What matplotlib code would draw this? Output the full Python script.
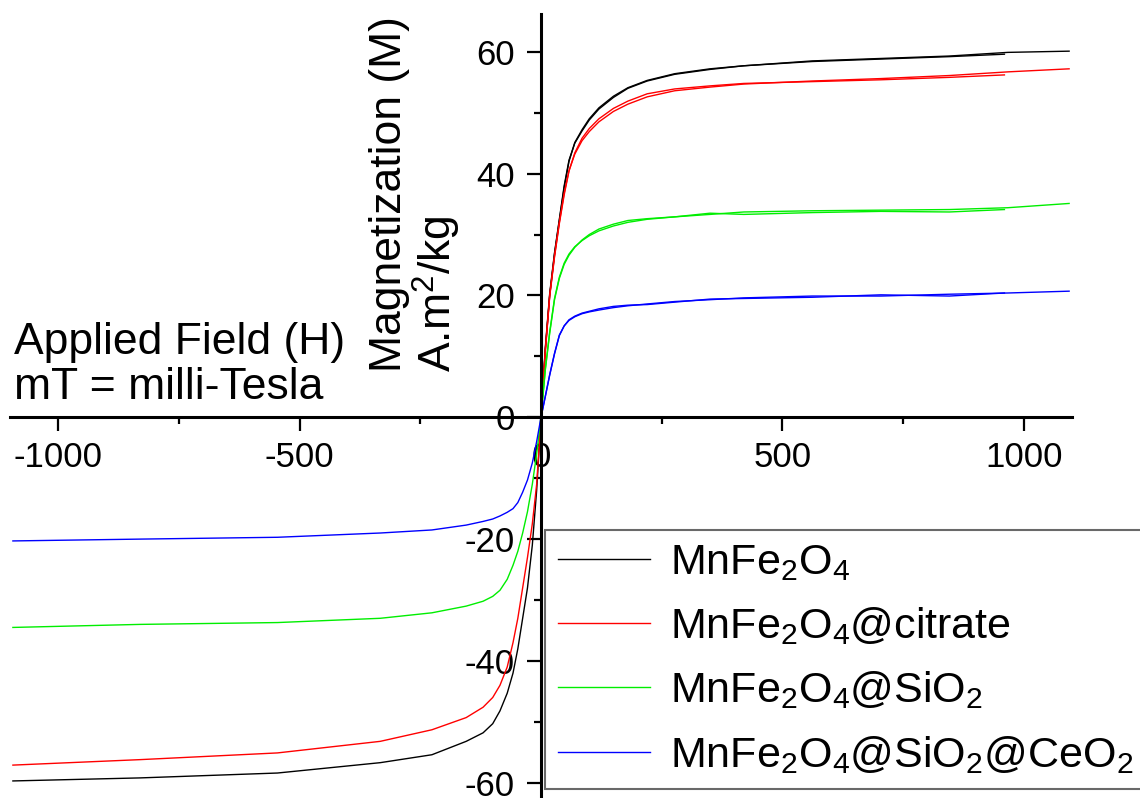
import matplotlib
matplotlib.use("Agg")
import matplotlib.pyplot as plt
from matplotlib.ticker import MultipleLocator

plt.rcParams['font.family'] = ['Liberation Sans', 'DejaVu Sans']
plt.rcParams['mathtext.fontset'] = 'custom'
plt.rcParams['mathtext.rm'] = 'Liberation Sans'
plt.rcParams['mathtext.it'] = 'Liberation Sans:italic'
plt.rcParams['axes.unicode_minus'] = False

# campo aplicado (mT), rama completa
campo = [-1094, -830, -546, -333, -226, -155, -120, -100, -85, -70, -58, -48, -38, -28, -18, -9, 0,
         9, 18, 28, 38, 48, 58, 70, 85, 100, 120, 150, 180, 220, 277, 350, 420, 562, 704, 846, 967, 1094]

m_mnfe = [-59.7, -59.2, -58.4, -56.7, -55.4, -53.2, -51.8, -50.3, -48.2, -45.3, -42.0, -38.0, -33.0, -28.0, -21.0, -12.0, 0,
          11.5, 20.3, 27.0, 32.5, 38.0, 42.2, 45.0, 47.0, 48.8, 50.6, 52.5, 54.0, 55.2, 56.3, 57.1, 57.7, 58.5, 58.9, 59.3, 59.9, 60.1]
m_citrato = [-57.1, -56.2, -55.1, -53.2, -51.3, -49.3, -47.6, -46.0, -44.0, -41.0, -37.0, -33.0, -28.0, -23.0, -17.5, -11.0, 0,
             11.0, 20.0, 26.5, 32.0, 36.8, 40.5, 43.2, 45.4, 46.9, 48.5, 50.2, 51.4, 52.6, 53.6, 54.2, 54.7, 55.2, 55.6, 56.1, 56.7, 57.2]
m_sio2 = [-34.5, -34.0, -33.7, -33.0, -32.1, -31.0, -30.2, -29.4, -28.4, -26.6, -24.3, -22.0, -19.0, -15.5, -11.0, -6.0, 0,
          8.0, 14.0, 19.5, 23.0, 25.3, 26.8, 28.0, 29.0, 29.8, 30.6, 31.4, 32.0, 32.5, 32.9, 33.3, 33.7, 33.9, 34.0, 34.1, 34.4, 35.1]
m_ceo2 = [-20.3, -20.0, -19.7, -19.0, -18.5, -17.7, -17.1, -16.7, -16.2, -15.6, -15.0, -14.0, -12.3, -10.3, -7.5, -4.0, 0,
          3.5, 7.0, 10.5, 13.5, 15.0, 15.9, 16.5, 17.0, 17.3, 17.6, 18.0, 18.3, 18.6, 19.0, 19.3, 19.6, 19.9, 19.9, 20.2, 20.4, 20.7]

# rama de retorno (solo lado positivo, termina cerca de 960 mT)
campo_ret = [0, 9, 18, 28, 38, 48, 58, 70, 85, 100, 120, 150, 180, 220, 277, 350, 420, 562, 704, 846, 960]
r_mnfe = [0, 11.2, 20.0, 26.8, 32.3, 37.7, 42.0, 45.1, 47.2, 49.0, 50.8, 52.7, 54.1, 55.3, 56.4, 57.2, 57.7, 58.4, 58.8, 59.2, 59.6]
r_citrato = [0, 10.8, 19.8, 26.3, 31.8, 36.5, 40.4, 43.4, 45.8, 47.4, 49.0, 50.7, 51.9, 53.1, 53.9, 54.4, 54.8, 55.1, 55.4, 55.8, 56.2]
r_sio2 = [0, 7.8, 13.8, 19.3, 22.8, 25.1, 26.6, 27.9, 29.1, 30.0, 30.9, 31.7, 32.3, 32.6, 32.9, 33.5, 33.3, 33.6, 33.8, 33.7, 34.1]
r_ceo2 = [0, 3.4, 6.9, 10.4, 13.4, 15.0, 16.0, 16.6, 17.1, 17.4, 17.8, 18.2, 18.4, 18.5, 18.9, 19.4, 19.5, 19.7, 20.1, 19.9, 20.4]

etiquetas = ["MnFe$_2$O$_4$", "MnFe$_2$O$_4$@citrate",
             "MnFe$_2$O$_4$@SiO$_2$", "MnFe$_2$O$_4$@SiO$_2$@CeO$_2$"]
colores = ["#000000", "#ff0000", "#00ee00", "#0000ff"]

fig = plt.figure(figsize=(11.4, 7.98), dpi=100)
ax = fig.add_axes([10/1140, 0.0, 1062/1140, 784/798])

series = [(m_mnfe, r_mnfe), (m_citrato, r_citrato), (m_sio2, r_sio2), (m_ceo2, r_ceo2)]
for (m, r), etiqueta, color in zip(series, etiquetas, colores):
    ax.plot(campo, m, color=color, lw=1.0, label=etiqueta)
    ax.plot(campo_ret, r, color=color, lw=1.0)

ax.set_xlim(-1100, 1100)
ax.set_ylim(-62.5, 66.2)

ax.spines['left'].set_position(('data', 0))
ax.spines['bottom'].set_position(('data', 0))
ax.spines['top'].set_visible(False)
ax.spines['right'].set_visible(False)
ax.spines['left'].set_linewidth(2.2)
ax.spines['bottom'].set_linewidth(2.2)

ax.xaxis.set_major_locator(MultipleLocator(500))
ax.xaxis.set_minor_locator(MultipleLocator(250))
ax.yaxis.set_major_locator(MultipleLocator(20))
ax.yaxis.set_minor_locator(MultipleLocator(10))
ax.tick_params(which='major', direction='out', length=10, width=1.6, labelsize=25)
ax.tick_params(which='minor', direction='out', length=5, width=1.6)
ax.tick_params(axis='x', pad=7)
ax.tick_params(axis='y', pad=9)

fig.text(14/1140, 1 - 408/798, "Applied Field (H)\nmT = milli-Tesla",
         fontsize=32, ha='left', va='bottom', linespacing=1.12)
fig.text(416/1140, 1 - 372/798, "Magnetization (M)\nA.m$^2$/kg",
         fontsize=32, rotation=90, ha='center', va='bottom',
         multialignment='left', linespacing=1.0)

leg = fig.legend(loc='upper left', bbox_to_anchor=(545/1140, 1 - 530/798),
                 fontsize=31, frameon=True, fancybox=False, borderaxespad=0,
                 handlelength=2.15, handletextpad=0.45, labelspacing=0.52,
                 borderpad=0.3)
leg.get_frame().set_edgecolor('#444444')
leg.get_frame().set_linewidth(1.5)

plt.savefig("out.png", dpi=100)
